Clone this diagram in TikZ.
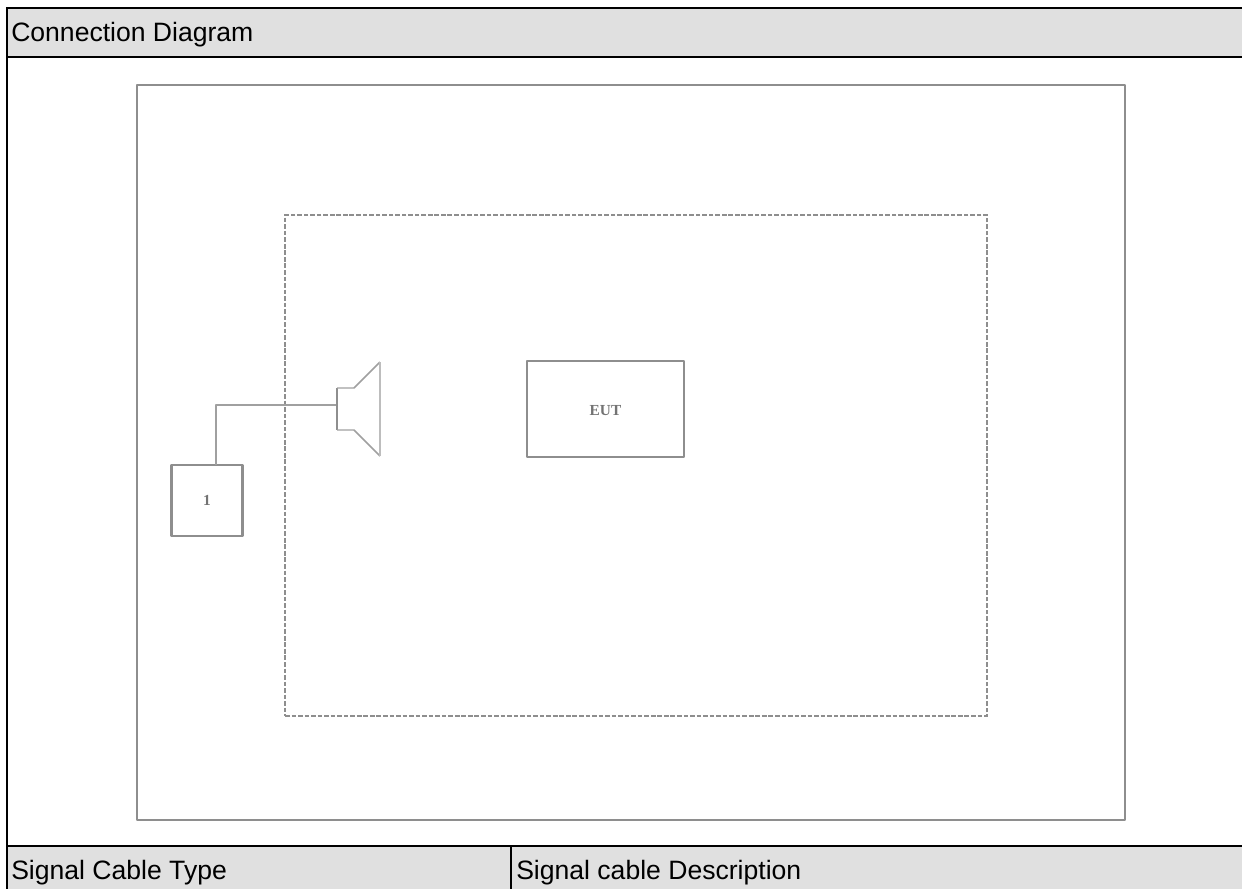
\documentclass[tikz,border=0pt]{standalone}
\usepackage{fontspec}
\setmainfont{Liberation Sans}
\newfontfamily\smallserif{Liberation Serif}
\definecolor{hdr}{HTML}{E0E0E0}
\definecolor{ln}{HTML}{8E8E8E}
\definecolor{lnlight}{HTML}{A0A0A0}
\tikzset{
  tableline/.style={black,line width=1.5pt},
  lbl/.style={anchor=base west,inner sep=0pt,font=\fontsize{19.85bp}{22bp}\selectfont,text=black},
  diagbox/.style={draw=ln,line width=1.6pt,line join=round},
  thinbox/.style={draw=ln,line width=1.2pt,line join=round},
  thickbox/.style={draw=ln,line width=1.6pt,line join=round},
  fine/.style={draw=lnlight,line width=1.1pt,line join=round},
  dashbox/.style={draw=ln,line width=1.4pt,dash pattern=on 3.5pt off 1.4pt},
  tiny/.style={font=\smallserif\bfseries\fontsize{11.5}{12}\selectfont,text=black!55,inner sep=0pt}
}
\begin{document}
\begin{tikzpicture}[x=0.75pt,y=-0.75pt]
\useasboundingbox (0,0) rectangle (1242,889);
\fill[white] (0,0) rectangle (1242,889);
\fill[hdr] (7,8) rectangle (1242,57);
\fill[hdr] (7,846) rectangle (1242,889);
\draw[tableline] (1242,8) -- (7,8) -- (7,889);
\draw[tableline] (7,57) -- (1242,57);
\draw[tableline] (7,846) -- (1242,846);
\draw[tableline] (511,846) -- (511,889);
\node[lbl] (t1) at (11,41.5) {Connection Diagram};
\node[lbl] (t2) at (11,879.5) {Signal Cable Type};
\node[lbl] (t3) at (516,879.5) {Signal cable Description};
\node[diagbox,minimum width=988*0.75pt,minimum height=735*0.75pt,inner sep=0pt] (outer) at (631,452.5) {};
\node[dashbox,minimum width=702*0.75pt,minimum height=501*0.75pt,inner sep=0pt] (room) at (636,465.5) {};
\node[thinbox,minimum width=157*0.75pt,minimum height=96*0.75pt,inner sep=0pt,tiny] (eut) at (605.5,409) {};
\node[tiny] (eutlabel) at (605.5,411) {EUT};
\node[thickbox,minimum width=71*0.75pt,minimum height=71*0.75pt,inner sep=0pt,tiny] (one) at (207,500.5) {1};
\coordinate (spk) at (337,405);
\coordinate (bend) at (216,405);
\coordinate (drop) at (216,465);
\draw[fine] (drop) -- (bend) -- (spk);
\draw[thinbox] (337,388) -- (337,430);
\draw[fine] (337,388) -- (354,388) -- (380,362);
\draw[fine] (337,430) -- (354,430) -- (380,456);
\draw[draw=lnlight!70,line width=1.2pt] (380,362) -- (380,456);
\end{tikzpicture}
\end{document}
